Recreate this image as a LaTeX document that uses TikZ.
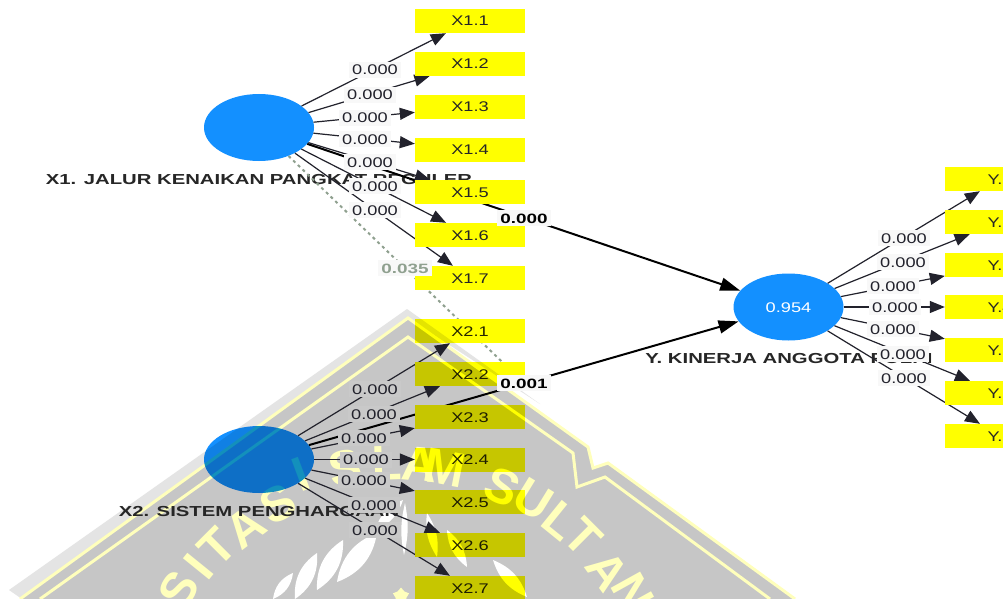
\documentclass[tikz,border=0pt]{standalone}
\usepackage{fontspec}
\setmainfont[FakeStretch=1.3]{Liberation Sans}
\newfontfamily\widebold[FakeStretch=1.4]{Liberation Sans Bold}
\newfontfamily\plainbold{Liberation Sans Bold}
\usetikzlibrary{shapes.geometric,arrows.meta}
\definecolor{lvblue}{HTML}{1390FF}
\definecolor{boxyellow}{HTML}{FFFF00}
\definecolor{wmgray}{HTML}{C6C6C6}
\definecolor{wmband}{HTML}{E4E4E4}
\definecolor{wmyellow}{HTML}{FFFFBC}
\definecolor{edgeink}{HTML}{22222C}
\definecolor{dotgray}{HTML}{8FA08F}
\definecolor{labelfill}{HTML}{F8F8F8}
\definecolor{labelgray}{HTML}{C9C9C9}
\tikzset{
  x=1pt,y=-1pt,
  capline/.style={text height=10pt,text depth=0pt},
  latent/.style={ellipse,fill=lvblue,minimum width=110pt,minimum height=67pt,inner sep=0pt,text=white,capline,font=\fontsize{14}{14}\selectfont},
  indicator/.style={rectangle,fill=boxyellow,minimum width=110pt,minimum height=24pt,inner sep=0pt,text=black!85,capline,font=\fontsize{14}{14}\selectfont},
  lvname/.style={inner sep=0pt,text=black!85,capline,font=\widebold\fontsize{14.5}{14.5}\selectfont},
  loading/.style={draw=edgeink,line width=1.2pt,-{Triangle[length=15pt,width=12pt]}},
  structural/.style={draw=black,line width=2pt,-{Triangle[length=20pt,width=13pt]}},
  insignificant/.style={draw=dotgray,line width=2pt,dash pattern=on 3pt off 3.5pt},
  pval/.style={fill=labelfill,inner xsep=3pt,inner ysep=3pt,text=edgeink,capline,font=\fontsize{14}{14}\selectfont},
  pvalg/.style={pval,fill=labelgray},
  pvalb/.style={fill=labelfill,inner xsep=3pt,inner ysep=3pt,text=black,capline,font=\widebold\fontsize{13.5}{13.5}\selectfont},
  wmletter/.style={inner sep=0pt,text=wmyellow,font=\plainbold\fontsize{49}{49}\selectfont},
  wmline/.style={draw=wmyellow,line width=3pt,line join=miter},
  leaflet/.style={fill=white},
}
\begin{document}
\begin{tikzpicture}
\useasboundingbox (0,0) rectangle (1003,599);
\clip (0,0) rectangle (1003,599);
\fill[white] (0,0) rectangle (1003,599);

% watermark underneath, the diagram multiplied onto it
\fill[wmband] (407,309) -- (540,404) -- (408,318) -- (22,599) -- (9,590) -- cycle;
\fill[wmgray] (20,599) -- (408,318) -- (588,447) -- (593,468) -- (608,463) -- (795,599) -- cycle;
\draw[wmline] (20,599) -- (408,318) -- (588,447) -- (593,468) -- (608,463) -- (795,599);
\draw[wmline] (40,599) -- (408,337) -- (573,453) -- (577,487) -- (605,477) -- (770,599);
\foreach \a/\r/\l [count=\i] in {148/255/S,141/252/I,135/252/T,127/248/A,118/250/S,110.6/268/I,101/262/S,91.8/262/L,84.5/262/A,79/262/M,65.6/261/S,58.5/264/U,51/263/L,45/266/T,36/263/A,29/272/N}
  \node[wmletter,rotate=\a-90] (wm\i) at ({395+\r*cos(\a)},{725-\r*sin(\a)}) {\l};
\fill[leaflet] (273,599) to[bend left=30] (293,573) to[bend left=30] cycle;
\fill[leaflet] (295,599) to[bend left=30] (317,553) to[bend left=30] cycle;
\fill[leaflet] (317,590) to[bend left=30] (343,540) to[bend left=30] cycle;
\fill[leaflet] (337,582) to[bend left=30] (377,533) to[bend left=30] cycle;
\fill[leaflet] (375,530) to[bend left=25] (403,500) to[bend left=25] cycle;
\fill[leaflet] (405,503) to[bend left=12] (404,555) to[bend left=12] cycle;
\fill[leaflet] (427,513) to[bend left=20] (437,557) to[bend left=20] cycle;
\fill[leaflet] (447,530) to[bend left=25] (467,567) to[bend left=25] cycle;
\fill[leaflet] (493,560) to[bend left=25] (527,597) to[bend left=25] cycle;
\node[star,star points=5,fill=wmyellow,minimum size=17pt,inner sep=0pt] (wmstar) at (401,596) {};

% latent variables
\node[latent] (x1) at (259,127.5) {};
\begin{scope}[blend mode=multiply]
\node[latent] (x2) at (259,459.5) {};
\end{scope}
\node[latent] (y) at (788.5,307) {0.954};

% latent names
\node[lvname] (nx1) at (259,179) {X1. JALUR KENAIKAN PANGKAT REGULER};
\node[lvname] (nx2) at (259,511) {X2. SISTEM PENGHARGAAN};
\node[lvname] (ny) at (789,358) {Y. KINERJA ANGGOTA POLRI};

% indicator boxes
\foreach \n/\t/\c in {1/X1.1/21,2/X1.2/64,3/X1.3/107,4/X1.4/149.5,5/X1.5/192,6/X1.6/235,7/X1.7/278}
  \node[indicator] (a\n) at (470,\c) {\t};
\begin{scope}[blend mode=multiply]
\foreach \n/\t/\c in {1/X2.1/331,2/X2.2/374,3/X2.3/417,4/X2.4/459.5,5/X2.5/502,6/X2.6/545,7/X2.7/588}
  \node[indicator] (b\n) at (470,\c) {\t};
\end{scope}
\foreach \n/\t/\c in {1/Y.1/179,2/Y.2/222,3/Y.3/265,4/Y.4/307,5/Y.5/350,6/Y.6/393,7/Y.7/436}
  \node[indicator] (c\n) at (1000,\c) {\t};

% path label nodes, placed first so that lines can end on them
\node[pvalb,opacity=0] (p2y) at (524,383) {0.001};

% all connectors run behind the boxes
\begin{scope}[even odd rule]
\clip (0,0) rectangle (1003,599)
  (a1.north west) rectangle (a1.south east) (a2.north west) rectangle (a2.south east)
  (a3.north west) rectangle (a3.south east) (a4.north west) rectangle (a4.south east)
  (a5.north west) rectangle (a5.south east) (a6.north west) rectangle (a6.south east)
  (a7.north west) rectangle (a7.south east)
  (b1.north west) rectangle (b1.south east) (b2.north west) rectangle (b2.south east)
  (b3.north west) rectangle (b3.south east) (b4.north west) rectangle (b4.south east)
  (b5.north west) rectangle (b5.south east) (b6.north west) rectangle (b6.south east)
  (b7.north west) rectangle (b7.south east)
  (c1.north west) rectangle (c1.south east) (c2.north west) rectangle (c2.south east)
  (c3.north west) rectangle (c3.south east) (c4.north west) rectangle (c4.south east)
  (c5.north west) rectangle (c5.south east) (c6.north west) rectangle (c6.south east)
  (c7.north west) rectangle (c7.south east);
\draw[insignificant] (x1) -- (p2y);
\draw[structural] (x1) -- (y);
\draw[structural] (x2) -- (y);
\foreach \n in {1,...,7} {
  \draw[loading] (x1) -- (a\n);
  \draw[loading] (x2) -- (b\n);
  \draw[loading] (y) -- (c\n);
}
\end{scope}

% loading labels
\foreach \n/\px/\py in {1/375/70,2/370/95,3/365/118,4/365/139,5/370/162,6/375/186,7/375/210}
  \node[pval] (la\n) at (\px,\py) {0.000};
\foreach \n/\px/\py in {1/375/389,2/374/414,3/364/438,4/366/459.5,5/364/480,6/374/505,7/375/530}
  \node[pvalg] (lb\n) at (\px,\py) {0.000};
\foreach \n/\px/\py in {1/904/238,2/903/262,3/893/286,4/895/307,5/893/329,6/903/354,7/904/378}
  \node[pval] (lc\n) at (\px,\py) {0.000};

% path labels
\node[pvalb] (q1y) at (524,218) {0.000};
\node[pvalb] (q2y) at (524,383) {0.001};
\node[pvalb,text=dotgray] (q12) at (405,268) {0.035};
\end{tikzpicture}
\end{document}
